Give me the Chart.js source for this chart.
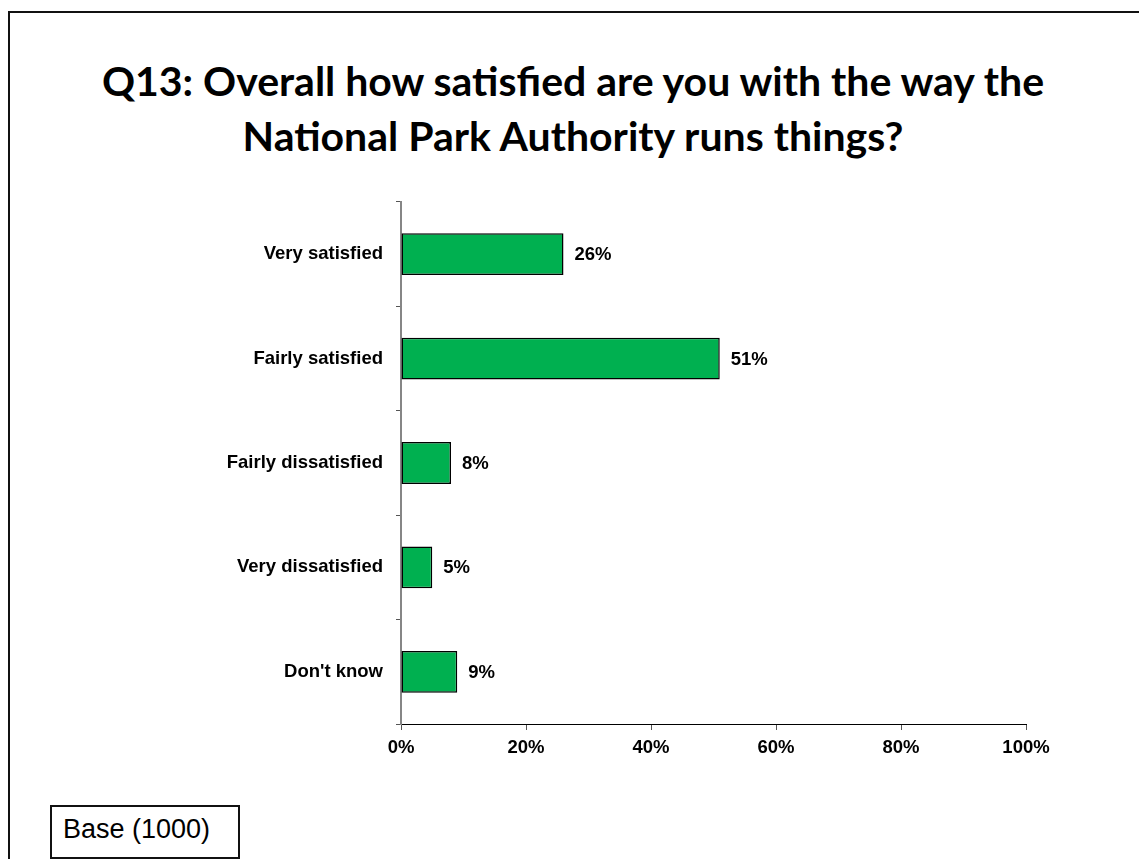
<!DOCTYPE html>
<html>
<head>
<meta charset="utf-8">
<title>Q13 satisfaction</title>
<script src="https://cdn.jsdelivr.net/npm/chart.js@4/dist/chart.umd.min.js"></script>
<style>
    html, body { margin: 0; padding: 0; background: #fff; }
    body { width: 1139px; height: 859px; position: relative; overflow: hidden; }
    #frame {
        position: absolute; left: 8px; top: 11px; width: 1140px; height: 860px;
        border-left: 2px solid #111; border-top: 2px solid #111;
    }
    #title {
        position: absolute; left: 9px; width: 1128px; top: 53px;
        text-align: center; font-family: Lato, "Open Sans", sans-serif;
        font-weight: bold; font-size: 41px; line-height: 55px; color: #000;
        white-space: nowrap;
    }
    #base {
        position: absolute; left: 50px; top: 805px; width: 190px; height: 54px;
        box-sizing: border-box; border: 2px solid #111; padding-left: 11px;
        font-family: "Liberation Sans", Arial, sans-serif;
        font-size: 27px; line-height: 45px; color: #000; background: #fff;
    }
    #wrap { position: absolute; left: 0; top: 0; width: 1139px; height: 859px; }
</style>
</head>
<body>
<div id="frame"></div>
<div id="title">Q13: Overall how satisfied are you with the way the<br>National Park Authority runs things?</div>
<div id="wrap"><canvas id="chart" width="1139" height="859"></canvas></div>
<div id="base">Base (1000)</div>
<script>
const categories = ["Very satisfied", "Fairly satisfied", "Fairly dissatisfied", "Very dissatisfied", "Don't know"];
const percentages = [26, 51, 8, 5, 9];
const xTicks = [0, 20, 40, 60, 80, 100];

const labelFont = { family: "'Liberation Sans', Arial, sans-serif", size: 18.5, weight: "bold" };

// writes the percentage just past the end of each bar
const barValueLabels = {
    id: "barValueLabels",
    afterDatasetsDraw(chart) {
        const ctx = chart.ctx;
        const meta = chart.getDatasetMeta(0);
        ctx.save();
        ctx.font = "bold 18.5px 'Liberation Sans', Arial, sans-serif";
        ctx.fillStyle = "#000";
        ctx.textAlign = "left";
        ctx.textBaseline = "middle";
        meta.data.forEach((bar, i) => {
            ctx.fillText(percentages[i] + "%", bar.x + 11, bar.y + 1);
        });
        ctx.restore();
    }
};

new Chart(document.getElementById("chart"), {
    type: "bar",
    data: {
        labels: categories,
        datasets: [{
            data: percentages,
            backgroundColor: "#00B050",
            borderColor: "#000",
            borderWidth: 1.5,
            borderSkipped: false,
            categoryPercentage: 1,
            barPercentage: 0.4
        }]
    },
    options: {
        indexAxis: "y",
        responsive: false,
        animation: false,
        layout: { padding: { top: 202, right: 113, left: 0, bottom: 0 } },
        plugins: { legend: { display: false }, tooltip: { enabled: false } },
        scales: {
            x: {
                min: 0,
                max: 100,
                afterBuildTicks: scale => { scale.ticks = xTicks.map(v => ({ value: v })); },
                afterFit: scale => { scale.height = 135; },
                border: { display: true, color: "#000", width: 1 },
                grid: { drawOnChartArea: false, drawTicks: true, tickLength: 6, color: "#555" },
                ticks: {
                    color: "#000",
                    font: labelFont,
                    padding: 7,
                    callback: v => v + "%"
                }
            },
            y: {
                afterFit: scale => { scale.width = 401; },
                border: { display: true, color: "#868686", width: 2 },
                grid: { drawOnChartArea: false, drawTicks: true, tickLength: 5, color: "#555", offset: true },
                ticks: { color: "#000", font: labelFont, padding: 13 }
            }
        }
    },
    plugins: [barValueLabels]
});
</script>
</body>
</html>
